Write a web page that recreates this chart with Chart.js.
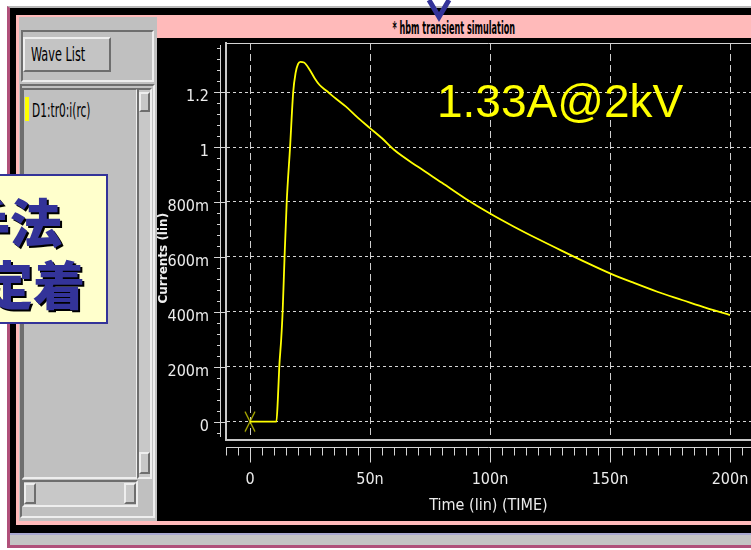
<!DOCTYPE html>
<html>
<head>
<meta charset="utf-8">
<script src="https://cdn.jsdelivr.net/npm/chart.js@4.4.1/dist/chart.umd.min.js"></script>
<style>
html, body { margin: 0; padding: 0; width: 751px; height: 550px; overflow: hidden; background: #fff; }
body { position: relative; }
.abs { position: absolute; box-sizing: border-box; }
.nar { font-family: 'DejaVu Sans Condensed', sans-serif; white-space: nowrap; }
.bevel { border-style: solid; border-width: 2px; border-color: #eeeeee #6e6e6e #6e6e6e #eeeeee; }
.sunk { border-style: solid; border-width: 2px; border-color: #6e6e6e #eeeeee #eeeeee #6e6e6e; }
.cjk { font-family: 'Noto Sans CJK JP', sans-serif; font-weight: 900; font-size: 52px; line-height: 52px;
       color: #333399; text-shadow: 2px 2px 0 #000; white-space: nowrap; }
</style>
</head>
<body>
<!-- window frame -->
<div class="abs" style="left:7px;top:6px;width:744px;height:542px;background:#000;border-top:2px solid #b8b8b8;border-left:3px solid #b0507a;border-bottom:3px solid #b0507a;"></div>
<div class="abs" style="left:10px;top:533px;width:741px;height:12px;background:#c4c4c4;border-top:2px solid #a8a8d0;"></div>
<div class="abs" style="left:16px;top:15px;width:735px;height:510px;background:#ffbaba;"></div>
<div class="abs" style="left:19px;top:17px;width:138px;height:504px;background:#c0c0c0;"></div>
<div class="abs" style="left:157px;top:38px;width:594px;height:483px;background:#000;"></div>

<!-- title bar text -->
<div class="abs nar" style="left:157px;top:18px;width:594px;text-align:center;font-size:17px;font-weight:bold;color:#000;">
  <span style="display:inline-block;transform:scaleX(0.53);">* hbm transient simulation</span>
</div>

<!-- left wave list panel -->
<div class="abs sunk" style="left:21px;top:30px;width:133px;height:52px;"></div>
<div class="abs bevel" style="left:23px;top:37px;width:88px;height:35px;background:#c4c4c4;"></div>
<div class="abs nar" style="left:31px;top:43px;font-size:19px;color:#000;text-decoration:underline;">
  <span style="display:inline-block;transform:scaleX(0.66);transform-origin:left;">Wave List</span>
</div>
<div class="abs sunk" style="left:20px;top:84px;width:135px;height:434px;"></div>
<div class="abs sunk" style="left:22px;top:88px;width:116px;height:391px;background:#c0c0c0;"></div>
<div class="abs sunk" style="left:137px;top:88px;width:15px;height:391px;background:#c8c8c8;"></div>
<div class="abs bevel" style="left:139px;top:92px;width:11px;height:20px;"></div>
<div class="abs bevel" style="left:139px;top:452px;width:11px;height:22px;"></div>
<div class="abs sunk" style="left:22px;top:480px;width:116px;height:27px;background:#c8c8c8;"></div>
<div class="abs bevel" style="left:24px;top:483px;width:12px;height:21px;"></div>
<div class="abs bevel" style="left:124px;top:483px;width:12px;height:21px;"></div>
<div class="abs" style="left:25px;top:97px;width:4px;height:24px;background:#ffff00;"></div>
<div class="abs nar" style="left:32px;top:99px;font-size:19px;color:#000;">
  <span style="display:inline-block;transform:scaleX(0.62);transform-origin:left;">D1:tr0:i(rc)</span>
</div>

<!-- plot -->
<canvas id="plot" class="abs" width="594" height="484" style="left:157px;top:38px;"></canvas>

<div class="abs" style="left:437px;top:78px;font-family:'Liberation Sans',Arial,sans-serif;font-size:46px;line-height:46px;color:#ffff00;white-space:nowrap;">1.33A@2kV</div>

<!-- slide overlay -->
<div class="abs" style="left:-3px;top:174px;width:111px;height:150px;background:#ffffcc;border:2px solid #333399;overflow:hidden;">
  <div class="abs cjk" style="left:-41px;top:19px;">手法</div>
  <div class="abs cjk" style="left:-18px;top:81px;">定着</div>
</div>
<svg class="abs" style="left:424px;top:0px;" width="30" height="22">
  <polyline points="5,0 15,17 25,0" fill="none" stroke="#333399" stroke-width="5"/>
</svg>

<script>
// waveform D1:tr0:i(rc), time in ns, current in A
const timeNs = [0, 11, 11.6, 12.2, 13.0, 13.6, 14.4, 15.3, 16.7, 18.0,
  19, 20, 21, 22.5, 25, 27, 29, 32, 35, 40,
  45, 50, 55, 60, 70, 80, 90, 100, 110, 120,
  130, 140, 150, 160, 170, 180, 190, 200];
const currentA = [0, 0, 0.08, 0.2, 0.3, 0.4, 0.6, 0.8, 1.0, 1.2,
  1.27, 1.302, 1.31, 1.308, 1.28, 1.25, 1.226, 1.204, 1.182, 1.147,
  1.106, 1.069, 1.032, 0.99, 0.928, 0.87, 0.811, 0.758, 0.71, 0.665,
  0.622, 0.58, 0.54, 0.505, 0.472, 0.443, 0.414, 0.388];

// cursor marker
const markerT = [0];
const markerI = [0];

const xTickValues = [0, 50, 100, 150, 200];
const xTickLabels = ["0", "50n", "100n", "150n", "200n"];
const yTickValues = [0, 0.2, 0.4, 0.6, 0.8, 1.0, 1.2];
const yTickLabels = ["0", "200m", "400m", "600m", "800m", "1", "1.2"];

const axisFont = { family: "'DejaVu Sans Condensed', sans-serif", size: 16 };

// tall "X" cursor glyph
const xMark = document.createElement("canvas");
xMark.width = 12;
xMark.height = 22;
(function () {
  const c = xMark.getContext("2d");
  c.strokeStyle = "#b4b400";
  c.lineWidth = 1.3;
  c.beginPath();
  c.moveTo(1, 1); c.lineTo(11, 21);
  c.moveTo(11, 1); c.lineTo(1, 21);
  c.stroke();
})();

function noPad(s) {
  s.paddingLeft = 0;
  s.paddingRight = 0;
  s.paddingTop = 0;
  s.paddingBottom = 0;
}

// ruler strips next to the plot + top frame line
const rulerPlugin = {
  id: "ruler",
  afterDraw(chart) {
    const { ctx, chartArea: a, scales } = chart;
    const x = scales.x, y = scales.y;
    ctx.save();
    ctx.strokeStyle = "#d4d4d4";
    ctx.lineWidth = 1;
    ctx.beginPath();
    // top frame
    ctx.moveTo(a.left, a.top + 0.5);
    ctx.lineTo(a.right, a.top + 0.5);
    // y ruler
    const rx = a.left - 5.5;
    ctx.moveTo(rx, a.top + 2);
    ctx.lineTo(rx, a.bottom - 3);
    for (let k = -1; k <= 34; k++) {
      const py = Math.round(y.getPixelForValue(k * 0.04)) + 0.5;
      if (k % 5 === 0) {
        ctx.moveTo(a.left - 12, py);
        ctx.lineTo(a.left, py);
      } else {
        ctx.moveTo(a.left - 9, py);
        ctx.lineTo(rx, py);
      }
    }
    // x ruler
    const ry = a.bottom + 7.5;
    ctx.moveTo(a.left, ry);
    ctx.lineTo(a.right, ry);
    for (let k = -2; k <= 41; k++) {
      const px = Math.round(x.getPixelForValue(k * 5)) + 0.5;
      ctx.moveTo(px, ry);
      ctx.lineTo(px, ry + (k % 10 === 0 ? 15 : 8));
    }
    ctx.stroke();
    ctx.restore();
  }
};

new Chart(document.getElementById("plot"), {
  type: "scatter",
  data: {
    datasets: [
      {
        data: timeNs.map((t, i) => ({ x: t, y: currentA[i] })),
        showLine: true,
        borderColor: "#ffff00",
        borderWidth: 1.8,
        pointRadius: 0,
        cubicInterpolationMode: "monotone",
        fill: false
      },
      {
        data: markerT.map((t, i) => ({ x: t, y: markerI[i] })),
        showLine: false,
        pointStyle: xMark,
        pointRadius: 6
      }
    ]
  },
  options: {
    responsive: false,
    animation: false,
    devicePixelRatio: 1,
    layout: { autoPadding: false, padding: { top: 5, right: 0, left: 0, bottom: 0 } },
    plugins: { legend: { display: false }, tooltip: { enabled: false } },
    scales: {
      x: {
        type: "linear",
        min: -10,
        max: 208.75,
        afterBuildTicks: (s) => { s.ticks = xTickValues.map((v) => ({ value: v })); },
        afterFit: (s) => { s.height = 82; noPad(s); },
        ticks: {
          callback: (v, i) => xTickLabels[i],
          color: "#ececec",
          font: axisFont,
          padding: 30,
          maxRotation: 0,
          autoSkip: false
        },
        grid: { color: "#cfcfcf", drawTicks: false, lineWidth: 1 },
        border: { display: true, color: "#c8c8c8", width: 2, dash: [7, 4] },
        title: {
          display: true,
          text: "Time (lin) (TIME)",
          color: "#ececec",
          font: axisFont,
          padding: { top: 0, bottom: 7 }
        }
      },
      y: {
        type: "linear",
        min: -0.067,
        max: 1.379,
        afterBuildTicks: (s) => { s.ticks = yTickValues.map((v) => ({ value: v })); },
        afterFit: (s) => { s.width = 69; noPad(s); },
        ticks: {
          callback: (v, i) => yTickLabels[i],
          color: "#ececec",
          font: axisFont,
          padding: 17,
          labelOffset: 5,
          autoSkip: false
        },
        grid: { color: "#d6d6d6", drawTicks: false, lineWidth: 1 },
        border: { display: true, color: "#c8c8c8", width: 2, dash: [3, 3] },
        title: {
          display: true,
          text: "Currents (lin)        ",
          color: "#f0f0f0",
          font: { family: "'DejaVu Sans', sans-serif", size: 12, weight: "bold" },
          padding: { top: 0, bottom: 0 }
        }
      }
    }
  },
  plugins: [rulerPlugin]
});
</script>
</body>
</html>
